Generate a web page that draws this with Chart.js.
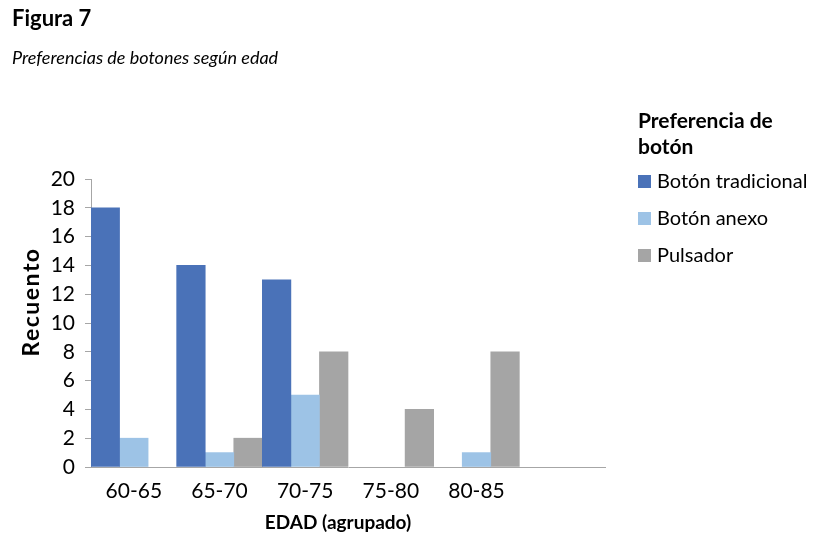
<!DOCTYPE html>
<html>
<head>
<meta charset="utf-8">
<script src="https://cdn.jsdelivr.net/npm/chart.js@4"></script>
<style>
  html, body { margin: 0; padding: 0; background: #fff; }
  #wrap { width: 840px; height: 540px; position: relative; }
</style>
</head>
<body>
<div id="wrap"><canvas id="chart" width="840" height="540"></canvas></div>
<script>
// datos
const categorias = ['60-65', '65-70', '70-75', '75-80', '80-85', ''];
const botonTradicional = [18, 14, 13, null, null, null];
const botonAnexo = [2, 1, 5, null, 1, null];
const pulsador = [null, 2, 8, 4, 8, null];
const ticksY = [0, 2, 4, 6, 8, 10, 12, 14, 16, 18, 20];

const fuente = 'Lato, "Open Sans", sans-serif';
const gris = '#a6a6a6';

// titulo, subtitulo, titulos de ejes y leyenda dibujados a mano
const textosExtra = {
  id: 'textosExtra',
  afterDraw(chart) {
    const ctx = chart.ctx;
    ctx.save();
    ctx.fillStyle = '#000';
    ctx.textBaseline = 'alphabetic';
    ctx.textAlign = 'left';
    ctx.font = 'bold 22px ' + fuente;
    ctx.fillText('Figura 7', 12, 26);
    ctx.font = 'italic 18px ' + fuente;
    ctx.fillText('Preferencias de botones según edad', 12, 64);

    // titulo eje y
    ctx.save();
    ctx.translate(39, 302);
    ctx.rotate(-Math.PI / 2);
    ctx.font = 'bold 23px ' + fuente;
    ctx.letterSpacing = '1.5px';
    ctx.textAlign = 'center';
    ctx.fillText('Recuento', 0, 0);
    ctx.restore();

    // titulo eje x
    ctx.font = 'bold 19px ' + fuente;
    ctx.textAlign = 'center';
    ctx.fillText('EDAD (agrupado)', 338, 529);
    ctx.textAlign = 'left';

    // leyenda
    ctx.font = 'bold 21px ' + fuente;
    ctx.fillText('Preferencia de', 638, 128);
    ctx.fillText('botón', 638, 154);
    ctx.font = '20px ' + fuente;
    ctx.textBaseline = 'middle';
    const ys = [181, 218, 255];
    chart.data.datasets.forEach((ds, i) => {
      ctx.fillStyle = ds.backgroundColor;
      ctx.fillRect(638, ys[i] - 6, 13, 13);
      ctx.fillStyle = '#000';
      ctx.fillText(ds.label, 657, ys[i] + 1);
    });
    ctx.restore();
  }
};

new Chart(document.getElementById('chart'), {
  type: 'bar',
  data: {
    labels: categorias,
    datasets: [
      { label: 'Botón tradicional', data: botonTradicional, backgroundColor: '#4a72b8' },
      { label: 'Botón anexo', data: botonAnexo, backgroundColor: '#9dc3e6' },
      { label: 'Pulsador', data: pulsador, backgroundColor: '#a5a5a5' },
    ],
  },
  options: {
    responsive: false,
    animation: false,
    categoryPercentage: 1.0,
    barPercentage: 1.0,
    layout: { padding: { left: 20, right: 235, top: 179, bottom: 0 } },
    plugins: {
      legend: { display: false },
      tooltip: { enabled: false },
    },
    scales: {
      x: {
        afterFit: (scale) => { scale.height = 73; },
        grid: { display: false, drawTicks: false },
        border: { display: true, color: gris, width: 1 },
        ticks: { color: '#000', font: { family: fuente, size: 21 }, padding: 12 },
      },
      y: {
        min: 0,
        max: 20,
        afterFit: (scale) => { scale.width = 71; },
        afterBuildTicks: (scale) => { scale.ticks = ticksY.map(v => ({ value: v })); },
        grid: { display: true, drawOnChartArea: false, drawTicks: true, tickLength: 6, color: gris },
        border: { display: true, color: gris, width: 1 },
        ticks: { color: '#000', font: { family: fuente, size: 21 }, padding: 10 },
      },
    },
  },
  plugins: [textosExtra],
});
</script>
</body>
</html>
